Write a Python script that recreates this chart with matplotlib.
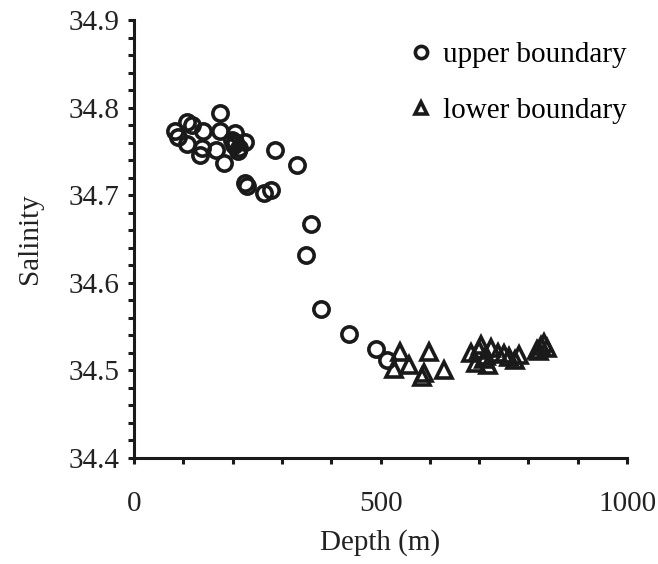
import matplotlib
matplotlib.use("Agg")
import matplotlib.pyplot as plt
from matplotlib.ticker import MultipleLocator

plt.rcParams['font.family'] = ['Liberation Serif', 'DejaVu Serif']

# upper boundary (circles)
upper_depth = [174, 83, 107, 117, 141, 174, 90, 107, 138, 134, 167, 182, 205, 205,
               202, 226, 212, 198, 210, 287, 331, 226, 229, 263, 277,
               358, 349, 380, 437, 490, 514]
upper_sal = [34.794, 34.773, 34.784, 34.780, 34.773, 34.773, 34.767, 34.759, 34.754,
             34.746, 34.752, 34.737, 34.771, 34.761, 34.757, 34.761, 34.754, 34.763,
             34.750, 34.752, 34.735, 34.714, 34.710, 34.702, 34.706,
             34.667, 34.632, 34.570, 34.542, 34.524, 34.512]

# lower boundary (triangles)
lower_depth = [539, 528, 558, 599, 585, 589, 628, 684, 704, 714, 694, 724, 738, 751,
               718, 760, 772, 780, 817, 825, 832, 838, 822, 700, 710]
lower_sal = [34.521, 34.502, 34.506, 34.521, 34.493, 34.497, 34.500, 34.520, 34.529,
             34.516, 34.508, 34.525, 34.520, 34.519, 34.506, 34.515, 34.512, 34.518,
             34.523, 34.528, 34.531, 34.526, 34.522, 34.523, 34.513]

FS = 21
INK = '#1a1a1a'

fig = plt.figure(figsize=(6.58, 5.64), dpi=100)
ax = fig.add_axes([0.2036, 0.188, 0.7494, 0.7765])

ax.plot(upper_depth, upper_sal, 'o', ms=11, mfc='none', mec=INK, mew=2.6,
        label='upper boundary', clip_on=False)
ax.plot(lower_depth, lower_sal, '^', ms=11, mfc='none', mec=INK, mew=2.6,
        label='lower boundary', clip_on=False)

ax.set_xlim(0, 1000)
ax.set_ylim(34.4, 34.9)
ax.xaxis.set_major_locator(MultipleLocator(500))
ax.xaxis.set_minor_locator(MultipleLocator(100))
ax.yaxis.set_major_locator(MultipleLocator(0.1))
ax.yaxis.set_minor_locator(MultipleLocator(0.02))
ax.yaxis.set_major_formatter(plt.FuncFormatter(lambda v, p: f"{v:.1f}"))

for s in ['top', 'right']:
    ax.spines[s].set_visible(False)
for s in ['left', 'bottom']:
    ax.spines[s].set_linewidth(2.2)
    ax.spines[s].set_color(INK)

ax.tick_params(which='both', direction='out', width=2.2, color=INK, length=4.5,
               labelsize=FS, labelcolor='#222222')
ax.tick_params(axis='y', which='major', pad=6)
ax.tick_params(axis='x', which='major', pad=19)

ax.set_xlabel('Depth (m)', fontsize=FS, color='#222222', labelpad=9)
ax.set_ylabel('Salinity', fontsize=FS, color='#222222', labelpad=18)

ax.legend(loc='upper right', bbox_to_anchor=(1.053, 1.011), frameon=False, fontsize=FS,
          handletextpad=0.3, labelspacing=1.03, handlelength=0.9, markerscale=0.8)

fig.savefig('out.png', dpi=100)
